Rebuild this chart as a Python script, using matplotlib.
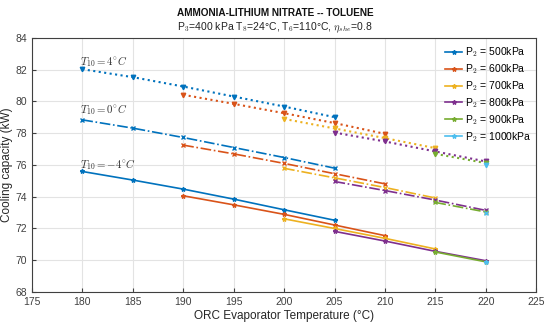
import matplotlib
matplotlib.use('Agg')
import matplotlib.pyplot as plt

plt.rcParams['font.family'] = ['Liberation Sans', 'DejaVu Sans']
plt.rcParams['mathtext.fontset'] = 'cm'

# ORC evaporator temperatures for each P2 level
p2_labels = ['500kPa', '600kPa', '700kPa', '800kPa', '900kPa', '1000kPa']
temps = [
    [180, 185, 190, 195, 200, 205],
    [190, 195, 200, 205, 210],
    [200, 205, 210, 215],
    [205, 210, 215, 220],
    [215, 220],
    [220],
]

# cooling capacity (kW), T10 = -4 C
cap_m4 = [
    [75.59, 75.05, 74.48, 73.85, 73.18, 72.52],
    [74.06, 73.49, 72.89, 72.22, 71.55],
    [72.61, 72.00, 71.38, 70.71],
    [71.82, 71.21, 70.56, 69.97],
    [70.52, 69.90],
    [69.87],
]
# T10 = 0 C
cap_0 = [
    [78.84, 78.32, 77.73, 77.10, 76.47, 75.80],
    [77.25, 76.70, 76.10, 75.45, 74.81],
    [75.79, 75.19, 74.58, 73.92],
    [74.96, 74.39, 73.79, 73.14],
    [73.64, 73.04],
    [72.97],
]
# T10 = 4 C
cap_4 = [
    [82.03, 81.53, 80.94, 80.31, 79.68, 79.01],
    [80.42, 79.85, 79.26, 78.64, 77.96],
    [78.90, 78.30, 77.69, 77.06],
    [78.04, 77.48, 76.85, 76.22],
    [76.70, 76.12],
    [76.01],
]

colors = ['#0072BD', '#D95319', '#EDB120', '#7E2F8E', '#77AC30', '#4DBEEE']

fig = plt.figure(figsize=(5.5, 3.27), dpi=100)
ax = fig.add_axes([0.058, 0.107, 0.917, 0.777])

for i in range(len(p2_labels)):
    ax.plot(temps[i], cap_m4[i], '-', marker='*', ms=3.2, lw=1.2,
            color=colors[i], label='P$_{\\rm 2}$ = ' + p2_labels[i])
    ax.plot(temps[i], cap_0[i], '-.', marker='x', ms=3.2, lw=1.2, color=colors[i])
    ax.plot(temps[i], cap_4[i], ':', marker='v', ms=3.2, lw=1.5, color=colors[i])

lab_kw = dict(fontsize=7.8, color='#333333', va='center')
ax.text(179.8, 76.0, r'$T_{10} = -4^{\circ}C$', **lab_kw)
ax.text(179.8, 79.47, r'$T_{10} = 0^{\circ}C$', **lab_kw)
ax.text(179.8, 82.5, r'$T_{10} = 4^{\circ}C$', **lab_kw)

ax.set_xlim(175, 225)
ax.set_ylim(68, 84)
ax.set_xticks(range(175, 226, 5))
ax.set_yticks(range(68, 85, 2))
ax.grid(True, color='#e3e3e3', lw=0.8)
ax.set_axisbelow(True)
ax.tick_params(direction='in', labelsize=7.5, colors='#404040', length=3)
for s in ax.spines.values():
    s.set_color('#404040')
    s.set_linewidth(0.8)

ax.set_xlabel('ORC Evaporator Temperature (°C)', fontsize=8.5, color='#262626', labelpad=2)
ax.set_ylabel('Cooling capacity (kW)', fontsize=8.5, color='#262626', labelpad=2)

fig.text(0.5, 0.96, 'AMMONIA-LITHIUM NITRATE -- TOLUENE', ha='center', va='center',
         fontsize=7.2, fontweight='bold', color='#111111')
fig.text(0.5, 0.915, r'P$_3$=400 kPa T$_8$=24°C, T$_6$=110°C, $\eta_{she}$=0.8',
         ha='center', va='center', fontsize=7.5, color='#222222')

leg = ax.legend(loc='upper right', bbox_to_anchor=(1.003, 0.995), frameon=False,
                fontsize=7.5, handlelength=1.6, handletextpad=0.3, labelspacing=0.3,
                borderaxespad=0.2)

fig.savefig('out.png', dpi=100)
